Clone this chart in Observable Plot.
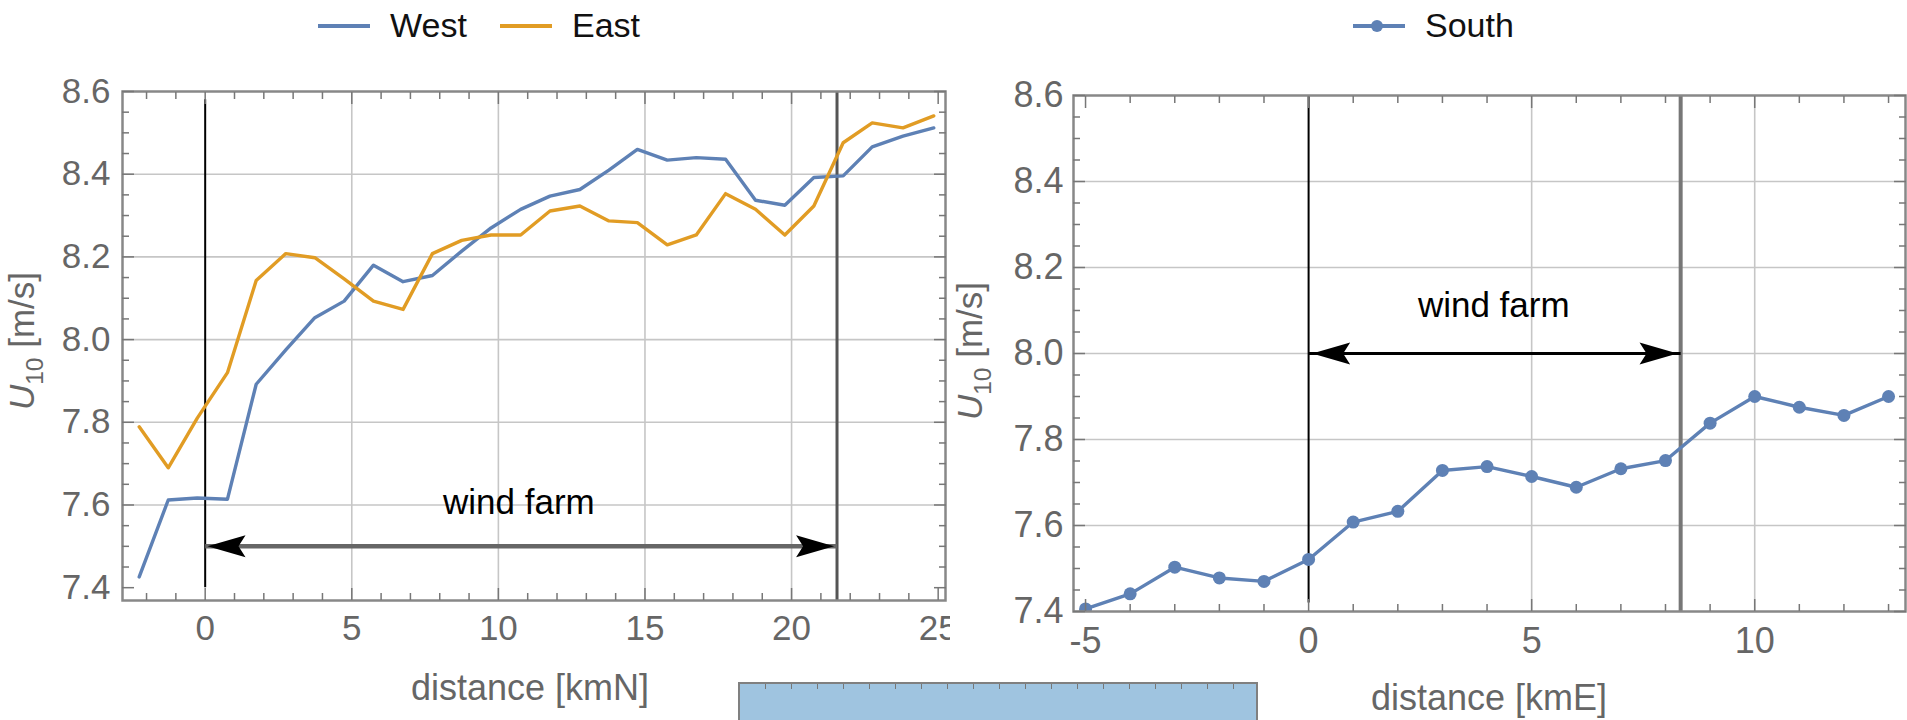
<!DOCTYPE html>
<html><head><meta charset="utf-8">
<script src="https://cdn.jsdelivr.net/npm/d3@7"></script>
<script src="https://cdn.jsdelivr.net/npm/@observablehq/plot@0.6"></script>
<style>
body{margin:0;background:#fff;}
#page{position:relative;width:1907px;height:720px;overflow:hidden;background:#fff;font-family:"Liberation Sans",Arial,sans-serif;}
.abs{position:absolute;}
</style></head><body><div id="page">
<div id="left" class="abs" style="left:0;top:0;width:960px;height:720px"></div>
<div id="right" class="abs" style="left:950px;top:0;width:957px;height:720px"></div>
<div id="stub" class="abs" style="left:738px;top:682px;width:520px;height:60px;border:2px solid #808080;box-sizing:border-box;background:repeating-linear-gradient(to right, transparent 0 25px, #777 25px 26px) left top / 100% 5px no-repeat, #9fc4e0;"></div>
<svg id="overlay" class="abs" style="left:0;top:0;pointer-events:none" width="1907" height="720"></svg>
</div>
<script>
// ---------- data ----------
const distN = [-2.25,-1.26,-0.27,0.76,1.74,2.75,3.74,4.74,5.74,6.75,7.75,8.75,9.75,10.76,11.76,12.78,13.77,14.74,15.76,16.75,17.75,18.77,19.77,20.76,21.76,22.75,23.8,24.85];
const westU = [7.426,7.612,7.617,7.614,7.892,7.975,8.053,8.093,8.18,8.14,8.155,8.214,8.27,8.315,8.347,8.363,8.41,8.46,8.434,8.44,8.436,8.337,8.325,8.392,8.396,8.466,8.492,8.512];
const eastU = [7.789,7.69,7.81,7.92,8.143,8.208,8.198,8.147,8.093,8.073,8.208,8.24,8.253,8.253,8.311,8.323,8.287,8.283,8.229,8.253,8.353,8.315,8.253,8.323,8.476,8.524,8.512,8.541];
const distE = [-5,-4,-3,-2,-1,0,1,2,3,4,5,6,7,8,9,10,11,12,13];
const southU = [7.406,7.441,7.503,7.478,7.470,7.521,7.608,7.633,7.728,7.737,7.714,7.689,7.732,7.751,7.838,7.900,7.875,7.856,7.900];
const seriesN = ["West","East"];
const seriesE = ["South"];
const xTicksN = [0,5,10,15,20,25];
const xTicksE = [-5,0,5,10];
const yTicks = [7.4,7.6,7.8,8.0,8.2,8.4,8.6];
const farmN = [0, 21.55];   // wind farm edges, kmN
const farmE = [0, 8.34];    // wind farm edges, kmE
const farmArrowU = [7.5, 8.0];
const farmLabel = "wind farm";
const farmLabelPos = [[10.7, 7.605], [4.15, 8.11]];
const xTitles = ["distance [kmN]", "distance [kmE]"];

// ---------- style ----------
const FONT = '"Liberation Sans", Arial, sans-serif';
const BLUE = "#5E81B5", ORANGE = "#E19C24", GRAY = "#666";

const headR = {draw(c){c.moveTo(0,0);c.lineTo(-38,-11);c.lineTo(-31,0);c.lineTo(-38,11);c.closePath();}};
const headL = {draw(c){c.moveTo(0,0);c.lineTo(38,-11);c.lineTo(31,0);c.lineTo(38,11);c.closePath();}};

function frameTicks(xMajor, xMinor, yMajor, yMinor) {
  const tk = {stroke: "#777", strokeWidth: 1.5, fill: "none", label: null, tickFormat: () => ""};
  const out = [];
  for (const a of ["bottom","top"]) {
    out.push(Plot.axisX({...tk, anchor: a, ticks: xMajor, tickSize: -12}));
    out.push(Plot.axisX({...tk, anchor: a, ticks: xMinor, tickSize: -7}));
  }
  for (const a of ["left","right"]) {
    out.push(Plot.axisY({...tk, anchor: a, ticks: yMajor, tickSize: -12}));
    out.push(Plot.axisY({...tk, anchor: a, ticks: yMinor, tickSize: -7}));
  }
  return out;
}
const round2 = v => Math.round(v*100)/100;

// ---------- left chart ----------
const west = distN.map((x,i)=>({x, u: westU[i]}));
const east = distN.map((x,i)=>({x, u: eastU[i]}));
const xMinorN = d3.range(-2, 26).filter(v => v % 5 !== 0);
const yMinorN = d3.range(7.45, 8.6, 0.05).map(round2).filter(v => !yTicks.includes(v));
const gridStyle = {stroke: "#c6c6c6", strokeOpacity: 1, strokeWidth: 1.6};

const left = Plot.plot({
  width: 960, height: 720,
  marginLeft: 122, marginRight: 15, marginTop: 91, marginBottom: 120,
  x: {domain: [-2.82, 25.25]},
  y: {domain: [7.369, 8.6]},
  style: {fontFamily: FONT, fontSize: "35px", background: "white", color: GRAY, overflow: "visible"},
  marks: [
    Plot.gridX([5,10,15,20], gridStyle),
    Plot.gridY([7.6,7.8,8.0,8.2,8.4], gridStyle),
    Plot.ruleX([farmN[0]], {y1: 7.4, y2: 8.58, stroke: "black", strokeWidth: 2}),
    Plot.ruleX([farmN[1]], {stroke: "#555", strokeWidth: 3}),
    Plot.line(west, {x: "x", y: "u", stroke: BLUE, strokeWidth: 3.4, strokeLinejoin: "round"}),
    Plot.line(east, {x: "x", y: "u", stroke: ORANGE, strokeWidth: 3.4, strokeLinejoin: "round"}),
    Plot.link([{a: farmN[0], b: farmN[1], u: farmArrowU[0]}], {x1: "a", x2: "b", y1: "u", y2: "u", stroke: "#666", strokeWidth: 4.5}),
    Plot.dot([{x: farmN[0]+0.08, u: farmArrowU[0]}], {x: "x", y: "u", symbol: headL, fill: "black", stroke: "none"}),
    Plot.dot([{x: farmN[1]-0.1, u: farmArrowU[0]}], {x: "x", y: "u", symbol: headR, fill: "black", stroke: "none"}),
    Plot.text([farmLabelPos[0]], {x: d => d[0], y: d => d[1], text: () => farmLabel, fill: "black", fontSize: 35}),
    Plot.frame({stroke: "#888", strokeWidth: 2.5}),
    ...frameTicks(xTicksN, xMinorN, yTicks, yMinorN),
    Plot.axisX({anchor: "bottom", ticks: xTicksN, tickSize: 0, tickPadding: 15, label: null, fill: GRAY, fontSize: 35, tickFormat: d => String(d)}),
    Plot.axisY({anchor: "left", ticks: yTicks, tickSize: 0, tickPadding: 12, label: null, fill: GRAY, fontSize: 35, tickFormat: d3.format(".1f")})
  ]
});
document.getElementById("left").append(left);

// ---------- right chart ----------
const south = distE.map((x,i)=>({x, u: southU[i]}));
const xMinorE = d3.range(-5, 14).filter(v => v % 5 !== 0);
const yMinorE = d3.range(7.45, 8.6, 0.05).map(round2).filter(v => !yTicks.includes(v));

const right = Plot.plot({
  width: 957, height: 720,
  marginLeft: 123, marginRight: 2, marginTop: 95, marginBottom: 109,
  x: {domain: [-5.27, 13.38]},
  y: {domain: [7.4, 8.6]},
  style: {fontFamily: FONT, fontSize: "36px", background: "white", color: GRAY, overflow: "visible"},
  marks: [
    Plot.gridX([5,10], gridStyle),
    Plot.gridY([7.6,7.8,8.0,8.2,8.4], gridStyle),
    Plot.ruleX([farmE[0]], {y1: 7.42, y2: 8.6, stroke: "black", strokeWidth: 2}),
    Plot.ruleX([farmE[1]], {stroke: "#777", strokeWidth: 4}),
    Plot.line(south, {x: "x", y: "u", stroke: BLUE, strokeWidth: 3.4, strokeLinejoin: "round", clip: true}),
    Plot.dot(south, {x: "x", y: "u", r: 6.5, fill: BLUE, stroke: "none", clip: true}),
    Plot.link([{a: farmE[0], b: farmE[1], u: farmArrowU[1]}], {x1: "a", x2: "b", y1: "u", y2: "u", stroke: "black", strokeWidth: 3}),
    Plot.dot([{x: farmE[0]+0.08, u: farmArrowU[1]}], {x: "x", y: "u", symbol: headL, fill: "black", stroke: "none"}),
    Plot.dot([{x: farmE[1]-0.07, u: farmArrowU[1]}], {x: "x", y: "u", symbol: headR, fill: "black", stroke: "none"}),
    Plot.text([farmLabelPos[1]], {x: d => d[0], y: d => d[1], text: () => farmLabel, fill: "black", fontSize: 35}),
    Plot.frame({stroke: "#888", strokeWidth: 2.5}),
    ...frameTicks(xTicksE, xMinorE, yTicks, yMinorE),
    Plot.axisX({anchor: "bottom", ticks: xTicksE, tickSize: 0, tickPadding: 16, label: null, fill: GRAY, fontSize: 36, tickFormat: d => String(d)}),
    Plot.axisY({anchor: "left", ticks: yTicks, tickSize: 0, tickPadding: 10, label: null, fill: GRAY, fontSize: 36, tickFormat: d3.format(".1f")})
  ]
});
document.getElementById("right").append(right);

// ---------- legends & titles (overlay) ----------
const ov = d3.select("#overlay").attr("font-family", FONT);
function legendItem(x, color, name, marker) {
  ov.append("line").attr("x1", x).attr("x2", x + 52).attr("y1", 26).attr("y2", 26)
    .attr("stroke", color).attr("stroke-width", 4);
  if (marker) ov.append("circle").attr("cx", x + 24).attr("cy", 26).attr("r", 6).attr("fill", color);
  ov.append("text").attr("x", x + 72).attr("y", 37).attr("font-size", 34).attr("fill", "#111").text(name);
}
legendItem(318, BLUE, seriesN[0], false);
legendItem(500, ORANGE, seriesN[1], false);
legendItem(1353, BLUE, seriesE[0], true);

function yTitle(x, y, size) {
  const t = ov.append("text").attr("transform", `translate(${x},${y}) rotate(-90)`)
    .attr("text-anchor", "middle").attr("fill", GRAY).attr("font-size", size);
  t.append("tspan").attr("font-style", "italic").text("U");
  t.append("tspan").attr("font-size", size * 0.7).attr("dy", size * 0.25).text("10");
  t.append("tspan").attr("dy", -size * 0.25).text(" [m/s]");
}
yTitle(34, 341, 35);
yTitle(982, 351, 35);

ov.append("text").attr("x", 530).attr("y", 700).attr("text-anchor", "middle")
  .attr("fill", GRAY).attr("font-size", 36).text(xTitles[0]);
ov.append("text").attr("x", 1489).attr("y", 710).attr("text-anchor", "middle")
  .attr("fill", GRAY).attr("font-size", 36).text(xTitles[1]);
</script>
</body></html>
